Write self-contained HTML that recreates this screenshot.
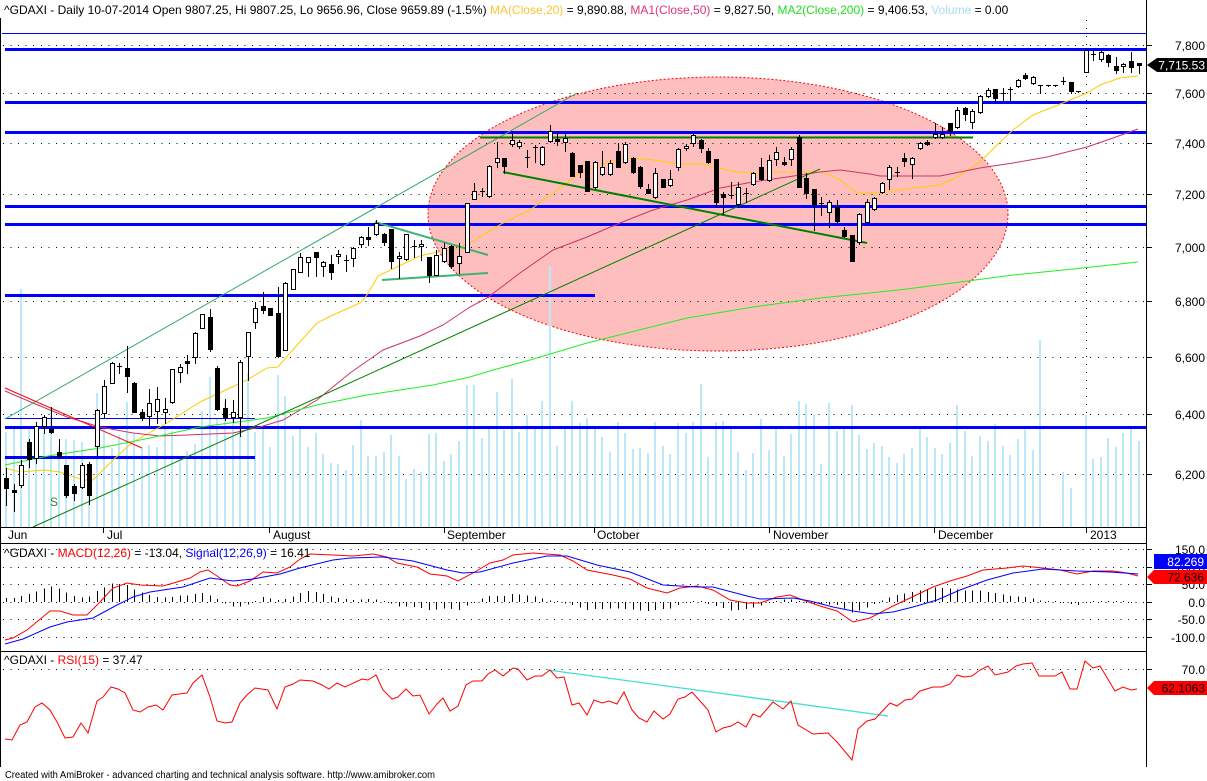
<!DOCTYPE html>
<html><head><meta charset="utf-8">
<style>
html,body{margin:0;padding:0;background:#fff;width:1207px;height:781px;overflow:hidden}
svg{display:block;font-family:"Liberation Sans",Arial,sans-serif}
</style></head><body>
<svg id="c" width="1207" height="781" viewBox="0 0 1207 781" xmlns="http://www.w3.org/2000/svg">
<rect x="0" y="0" width="1207" height="781" fill="#fff"/>
<!-- ellipse -->
<ellipse cx="718" cy="214" rx="290" ry="137" fill="#ffbebe" stroke="#ff0000" stroke-width="1" stroke-dasharray="2 2"/>
<!-- grid -->
<g stroke="#000" stroke-width="1" stroke-dasharray="1 6.55" shape-rendering="crispEdges">
<line x1="3" x2="1146" y1="45.5" y2="45.5"/>
<line x1="3" x2="1146" y1="93.5" y2="93.5"/>
<line x1="3" x2="1146" y1="143.5" y2="143.5"/>
<line x1="3" x2="1146" y1="194.5" y2="194.5"/>
<line x1="3" x2="1146" y1="247.5" y2="247.5"/>
<line x1="3" x2="1146" y1="301.5" y2="301.5"/>
<line x1="3" x2="1146" y1="357.5" y2="357.5"/>
<line x1="3" x2="1146" y1="414.5" y2="414.5"/>
<line x1="3" x2="1146" y1="474.5" y2="474.5"/>
<line x1="1086.5" x2="1086.5" y1="20" y2="527" stroke-dasharray="1 7"/>
<line x1="3" x2="1146" y1="549.5" y2="549.5"/>
<line x1="3" x2="1146" y1="567.5" y2="567.5"/>
<line x1="3" x2="1146" y1="584.5" y2="584.5"/>
<line x1="3" x2="1146" y1="602.5" y2="602.5"/>
<line x1="3" x2="1146" y1="619.5" y2="619.5"/>
<line x1="3" x2="1146" y1="637.5" y2="637.5"/>
<line x1="3" x2="1146" y1="669.5" y2="669.5"/>
</g>
<g id="vol"></g>
<!-- blue horizontal lines -->
<g fill="#0000ff" shape-rendering="crispEdges">
<rect x="2" y="33" width="1144" height="1"/>
<rect x="5" y="48" width="1141" height="3"/>
<rect x="5" y="101" width="1141" height="3"/>
<rect x="5" y="131" width="1141" height="3"/>
<rect x="5" y="205" width="1141" height="3"/>
<rect x="5" y="223" width="1141" height="3"/>
<rect x="5" y="294" width="590" height="3"/>
<rect x="5" y="418" width="250" height="1"/>
<rect x="5" y="426" width="1141" height="3"/>
<rect x="5" y="456" width="250" height="3"/>
</g>
<!-- moving averages -->
<g fill="none" stroke-width="1">
<polyline stroke="#ffcc00" points="5,468 20,472 45,470 60,472 83,480 93,480 113,460 133,442 167,423 200,402 230,388 247,380 267,368 278,367 290,353 317,323 333,315 360,303 367,295 378,276 397,267 420,256 437,252 447,252 470,243 503,223 530,210 553,193 580,173 607,162 630,158 653,160 680,164 703,164 713,167 737,172 753,173 780,172 823,172 840,180 857,193 880,193 913,188 940,185 957,177 980,162 997,145 1013,130 1033,115 1053,107 1070,100 1087,93 1100,85 1120,78 1138,76"/>
<polyline stroke="#cc3366" points="5,391 33,403 67,417 100,427 133,433 160,436 187,435 233,433 260,427 283,420 317,400 350,373 383,350 420,336 443,325 470,307 487,298 520,273 553,250 587,237 620,223 653,210 687,200 720,188 753,182 787,177 820,172 840,170 870,174 880,176 940,176 980,168 1013,163 1047,157 1087,147 1113,138 1138,129"/>
<polyline stroke="#22ee22" points="5,465 48,456 100,448 150,438 200,427 267,418 317,405 367,395 433,385 470,377 493,370 530,360 587,343 687,318 753,307 820,298 870,293 907,289 1013,275 1073,269 1138,262"/>
</g>
<!-- trend lines -->
<g fill="none">
<line x1="5" y1="419" x2="577" y2="93" stroke="#33aa66" stroke-width="1"/>
<line x1="33" y1="527" x2="820" y2="169" stroke="#008000" stroke-width="1"/>
<line x1="5" y1="388" x2="142" y2="448" stroke="#ff0000" stroke-width="1"/>
<line x1="375" y1="222" x2="488" y2="255" stroke="#3cb371" stroke-width="2"/>
<line x1="382" y1="280" x2="488" y2="273" stroke="#3cb371" stroke-width="2"/>
<line x1="480" y1="137.5" x2="973" y2="137.5" stroke="#008000" stroke-width="2"/>
<line x1="503" y1="172" x2="867" y2="243" stroke="#008000" stroke-width="2"/>
</g>
<text x="50" y="506" font-size="12" fill="#3c7a3c">S</text>
<g id="cand" shape-rendering="crispEdges"></g>

<!-- MACD -->
<g id="hist" stroke="#000" stroke-width="1" shape-rendering="crispEdges"></g>
<polyline id="macdR" fill="none" stroke="#ff0000" stroke-width="1" points="5,640 13,638 27,630 33,625 50,611 60,611 73,615 87,615 100,602 113,588 127,583 140,585 163,586 177,582 190,578 200,572 208,570 217,576 230,585 237,586 250,581 263,572 277,573 290,567 300,559 310,554 333,555 353,556 373,554 387,557 397,563 417,567 430,574 447,576 458,581 473,573 490,563 503,560 513,555 533,553 560,555 573,561 587,570 613,575 630,579 647,588 667,593 680,588 697,586 713,590 730,600 747,603 760,603 777,597 790,595 803,600 820,606 837,611 853,622 870,618 893,606 910,598 933,587 950,581 967,576 983,570 1007,568 1023,566 1043,568 1060,570 1077,574 1093,571 1113,571 1127,573 1138,576"/>
<polyline id="macdB" fill="none" stroke="#0000ff" stroke-width="1" points="5,644 23,639 50,627 67,622 93,618 117,605 133,597 150,592 183,587 210,578 233,581 253,579 280,574 300,568 333,560 350,558 383,557 413,561 447,570 463,573 480,572 513,563 547,556 567,556 597,565 630,572 663,585 697,587 713,587 747,596 760,599 793,598 810,601 833,607 853,611 873,614 893,612 913,607 937,600 960,590 987,580 1013,573 1043,569 1077,571 1110,572 1138,574"/>

<!-- RSI -->
<line x1="548" y1="670" x2="888" y2="716" stroke="#40e0d0" stroke-width="1.3"/>
<polyline fill="none" stroke="#ff0000" stroke-width="1" points="5,739 12,740 20,725 27,722 35,707 42,703 50,710 57,722 65,738 73,737 81,723 88,733 97,701 103,697 111,687 118,689 125,693 133,710 140,712 148,707 156,705 163,710 172,695 179,694 187,693 193,683 202,675 210,697 217,721 225,723 232,722 240,703 247,695 255,688 268,690 277,709 285,687 293,684 300,680 313,681 322,685 329,689 337,683 345,687 362,679 368,680 376,675 383,690 392,699 398,697 406,689 413,696 420,695 429,714 437,704 443,698 450,711 458,706 466,685 473,681 482,681 488,674 495,670 503,676 513,668 518,669 527,680 535,676 542,676 550,670 557,678 564,677 572,705 579,703 587,715 594,700 602,703 609,701 617,704 624,692 632,710 639,718 647,722 654,711 663,719 670,714 678,699 685,697 692,692 700,701 708,710 716,732 723,728 731,726 738,722 746,727 753,714 760,717 773,702 783,709 791,701 798,725 813,734 828,733 837,742 852,760 858,729 867,721 875,719 890,703 897,706 905,700 912,699 920,691 933,687 942,687 950,684 957,675 964,677 972,676 980,670 988,666 995,675 1008,672 1016,666 1023,664 1032,663 1039,676 1055,676 1062,672 1070,689 1077,689 1085,661 1093,668 1100,666 1115,691 1123,687 1131,690 1137,689"/>

<!-- frame -->
<g stroke="#000" stroke-width="1" shape-rendering="crispEdges">
<line x1="1146.5" y1="0" x2="1146.5" y2="767"/>
<line x1="0.5" y1="18" x2="0.5" y2="767"/>
<line x1="0" y1="527.5" x2="1146" y2="527.5"/>
<line x1="0" y1="543.5" x2="1146" y2="543.5"/>
<line x1="0" y1="651.5" x2="1146" y2="651.5"/>
<line x1="103.5" y1="527" x2="103.5" y2="533"/>
<line x1="269.5" y1="527" x2="269.5" y2="533"/>
<line x1="444.5" y1="527" x2="444.5" y2="533"/>
<line x1="594.5" y1="527" x2="594.5" y2="533"/>
<line x1="769.5" y1="527" x2="769.5" y2="533"/>
<line x1="934.5" y1="527" x2="934.5" y2="533"/>
<line x1="1086.5" y1="527" x2="1086.5" y2="533"/>
<!-- right ticks -->
<line x1="1146" x2="1152" y1="45.5" y2="45.5"/>
<line x1="1146" x2="1152" y1="93.5" y2="93.5"/>
<line x1="1146" x2="1152" y1="143.5" y2="143.5"/>
<line x1="1146" x2="1152" y1="194.5" y2="194.5"/>
<line x1="1146" x2="1152" y1="247.5" y2="247.5"/>
<line x1="1146" x2="1152" y1="301.5" y2="301.5"/>
<line x1="1146" x2="1152" y1="357.5" y2="357.5"/>
<line x1="1146" x2="1152" y1="414.5" y2="414.5"/>
<line x1="1146" x2="1152" y1="474.5" y2="474.5"/>
<line x1="1146" x2="1152" y1="549.5" y2="549.5"/>
<line x1="1146" x2="1152" y1="567.5" y2="567.5"/>
<line x1="1146" x2="1152" y1="584.5" y2="584.5"/>
<line x1="1146" x2="1152" y1="602.5" y2="602.5"/>
<line x1="1146" x2="1152" y1="619.5" y2="619.5"/>
<line x1="1146" x2="1152" y1="637.5" y2="637.5"/>
<line x1="1146" x2="1152" y1="669.5" y2="669.5"/>
</g>

<!-- texts -->
<g font-size="12" fill="#000">
<text x="4" y="14" xml:space="preserve">^GDAXI - Daily 10-07-2014 Open 9807.25, Hi 9807.25, Lo 9656.96, Close 9659.89 (-1.5%) <tspan fill="#ffc333">MA(Close,20)</tspan> = 9,890.88, <tspan fill="#dd3377">MA1(Close,50)</tspan> = 9,827.50, <tspan fill="#22dd22">MA2(Close,200)</tspan> = 9,406.53, <tspan fill="#a8dcf0">Volume</tspan> = 0.00</text>
<text x="4" y="557" xml:space="preserve">^GDAXI - <tspan fill="#ff0000">MACD(12,26)</tspan> = -13.04, <tspan fill="#0000ff">Signal(12,26,9)</tspan> = 16.41</text>
<text x="4" y="664" xml:space="preserve">^GDAXI - <tspan fill="#ff0000">RSI(15)</tspan> = 37.47</text>
<text x="8" y="539">Jun</text>
<text x="107" y="539">Jul</text>
<text x="273" y="539">August</text>
<text x="447" y="539">September</text>
<text x="597" y="539">October</text>
<text x="773" y="539">November</text>
<text x="938" y="539">December</text>
<text x="1090" y="539">2013</text>
<g text-anchor="end">
<text x="1205" y="50">7,800</text>
<text x="1205" y="98">7,600</text>
<text x="1205" y="148">7,400</text>
<text x="1205" y="199">7,200</text>
<text x="1205" y="252">7,000</text>
<text x="1205" y="306">6,800</text>
<text x="1205" y="362">6,600</text>
<text x="1205" y="419">6,400</text>
<text x="1205" y="479">6,200</text>
<text x="1205" y="554">150.0</text>
<text x="1205" y="572">100.0</text>
<text x="1205" y="589">50.0</text>
<text x="1205" y="607">0.0</text>
<text x="1205" y="624">-50.0</text>
<text x="1205" y="642">-100.0</text>
<text x="1205" y="674">70.0</text>
</g>
</g>
<!-- badges -->
<polygon points="1147,65 1157,58 1207,58 1207,72 1157,72" fill="#000"/>
<text x="1205" y="69.5" font-size="12" fill="#fff" text-anchor="end">7,715.53</text>
<rect x="1154" y="554" width="53" height="15" fill="#0000ff"/>
<text x="1204" y="566" font-size="12" fill="#fff" text-anchor="end">82.269</text>
<polygon points="1147,577 1154,570 1207,570 1207,584 1154,584" fill="#ff0000"/>
<text x="1204" y="581.5" font-size="12" fill="#000" text-anchor="end">72.636</text>
<polygon points="1147,688 1154,681 1207,681 1207,695 1154,695" fill="#ff0000"/>
<text x="1205" y="692.5" font-size="12" fill="#000" text-anchor="end">62.1063</text>
<text x="5" y="778" font-size="10" fill="#000" textLength="430" lengthAdjust="spacingAndGlyphs">Created with AmiBroker - advanced charting and technical analysis software. http://www.amibroker.com</text>
</svg>
<script>
(function(){
var NS='http://www.w3.org/2000/svg';
function el(tag,a,p){var e=document.createElementNS(NS,tag);for(var k in a)e.setAttribute(k,a[k]);p.appendChild(e);return e;}
function X(i){return Math.round(6+i*7.55);}
var V=[432,428,289,430,428,433,408,446,439,440,
442,467,393,428,448,435,402,433,448,445,
447,428,431,458,451,444,411,377,418,402,
418,423,373,432,428,447,375,396,436,428,
447,433,454,463,464,470,445,420,456,456,
452,435,456,479,469,472,434,433,461,454,
441,385,385,438,428,392,430,379,432,415,
428,401,266,446,428,401,423,418,428,437,
452,422,433,449,448,453,422,446,454,423,
433,422,384,457,422,421,426,452,470,453,
419,450,429,456,434,401,404,415,464,403,
431,429,405,435,449,443,446,457,463,454,
448,426,437,448,454,443,405,431,456,436,
441,424,446,455,439,430,450,340,0,0,
472,488,0,415,459,457,438,447,433,429,441];
var gv=document.getElementById('vol');
for(var i=0;i<V.length;i++){if(!V[i])continue;el('rect',{x:X(i)-1,y:V[i],width:2,height:527-V[i],fill:'#bce8f9'},gv);}
var C=[[478,488,468,505,1],[490,492,484,511,1],[465,485,460,487,0],[442,459,439,467,1],[426,458,422,463,0],[417,426,415,433,0],[429,432,407,433,1],[452,456,439,457,1],[465,495,465,497,1],[486,493,484,500,1],
[465,487,463,488,0],[464,495,462,504,1],[410,446,409,455,0],[386,413,380,417,0],[363,383,362,383,0],[366,367,363,373,0],[368,376,346,392,1],[383,412,382,412,1],[412,418,409,420,1],[403,416,389,427,0],
[399,411,387,423,0],[409,412,398,423,0],[369,402,369,403,0],[367,372,364,382,0],[361,363,355,373,1],[333,357,332,363,0],[314,328,314,328,0],[317,349,309,351,1],[368,409,366,410,1],[408,417,399,420,1],
[412,417,400,422,0],[362,417,360,436,0],[332,356,332,380,0],[308,322,302,328,0],[306,310,292,313,1],[308,315,308,315,1],[313,356,287,357,1],[283,350,282,350,0],[269,289,269,289,0],[257,272,253,272,0],
[257,262,257,276,0],[252,257,252,276,1],[262,266,261,276,0],[264,272,255,279,1],[254,256,250,263,0],[260,261,255,271,0],[248,258,247,266,0],[237,244,236,247,0],[237,239,227,245,1],[223,234,220,235,0],
[234,242,233,245,1],[229,261,229,268,1],[256,258,252,278,0],[234,259,234,260,0],[246,247,240,257,0],[244,246,240,260,0],[257,275,257,282,1],[255,275,250,275,0],[248,261,243,262,0],[246,266,245,268,1],
[256,263,243,273,0],[203,252,203,252,0],[191,199,183,199,0],[191,192,188,196,0],[166,196,165,197,0],[158,162,142,167,0],[158,166,158,173,1],[140,144,132,146,0],[142,146,140,148,0],[157,158,150,167,0],
[147,148,145,162,0],[147,164,146,165,0],[131,141,125,142,0],[139,141,132,145,1],[138,142,134,151,0],[153,176,152,176,1],[165,172,165,177,1],[161,191,161,191,1],[162,187,161,188,0],[167,174,151,175,0],
[163,174,160,175,0],[151,167,143,167,1],[144,162,142,163,0],[158,172,157,173,1],[167,186,166,188,1],[189,193,184,193,1],[173,197,168,198,0],[179,187,179,187,1],[179,185,170,186,0],[149,167,148,170,0],
[146,148,144,150,0],[135,143,133,146,0],[140,148,139,152,1],[151,162,148,163,1],[159,202,159,207,1],[194,197,192,214,1],[195,196,182,198,0],[187,204,182,206,0],[193,194,188,202,0],[173,184,172,185,0],
[167,179,158,180,1],[160,180,155,181,0],[152,159,147,165,0],[162,164,157,165,1],[149,159,147,165,0],[137,187,135,187,1],[178,193,173,198,1],[189,204,189,230,1],[203,204,197,215,0],[202,212,200,227,0],
[207,221,200,223,1],[230,236,227,237,1],[235,261,235,261,1],[214,242,213,244,0],[202,222,199,222,0],[198,209,197,210,0],[183,192,182,193,0],[167,179,165,189,0],[172,173,167,176,0],[158,161,153,166,1],
[158,164,157,178,0],[143,148,142,149,0],[142,144,140,145,1],[134,137,123,138,0],[134,137,127,138,0],[123,131,123,135,1],[110,127,107,128,0],[108,114,107,120,1],[111,122,109,128,0],[96,112,95,113,0],
[90,96,88,97,0],[89,98,89,102,1],[93,94,88,101,0],[89,90,87,101,0],[80,86,79,87,0],[75,78,73,79,1],[77,83,76,84,0],[85,86,85,93,0],[85,86,85,86,0],[85,86,85,86,0],
[81,82,77,84,0],[82,91,82,93,1],[91,92,91,92,0],[50,72,50,72,0],[54,55,51,60,0],[52,59,51,61,0],[55,62,54,66,1],[66,70,57,73,1],[64,66,63,72,0],[61,67,52,72,1],[63,65,63,73,1]];
var gc=document.getElementById('cand');
for(var j=0;j<C.length;j++){var c=C[j],x=X(j),t=c[0],b=c[1],h=Math.min(c[2],t),l=Math.max(c[3],b);
 if(l-h>0)el('line',{x1:x+0.5,y1:h,x2:x+0.5,y2:l+1,stroke:'#000','stroke-width':1},gc);
 if(b-t<=1){el('rect',{x:x-2,y:t,width:5,height:1,fill:'#000'},gc);}
 else{el('rect',{x:x-1.5,y:t+0.5,width:4,height:b-t,fill:c[4]?'#000':'#fff',stroke:'#000','stroke-width':1},gc);}
}
function pts(id){return document.getElementById(id).getAttribute('points').trim().split(/\s+/).map(function(p){var q=p.split(',');return[+q[0],+q[1]];});}
function interp(P,x){if(x<P[0][0])return null;for(var k=1;k<P.length;k++){if(x<=P[k][0]){var a=P[k-1],bb=P[k];return a[1]+(bb[1]-a[1])*(x-a[0])/(bb[0]-a[0]);}}return null;}
var R=pts('macdR'),B=pts('macdB'),gh=document.getElementById('hist');
for(var i2=0;i2<151;i2++){var xx=X(i2),r=interp(R,xx),bl=interp(B,xx);if(r===null||bl===null)continue;var d=bl-r;if(Math.abs(d)<1)d=d<0?-1:1;
 el('line',{x1:xx+0.5,y1:602,x2:xx+0.5,y2:602-d},gh);}
})();
</script>
</body></html>
